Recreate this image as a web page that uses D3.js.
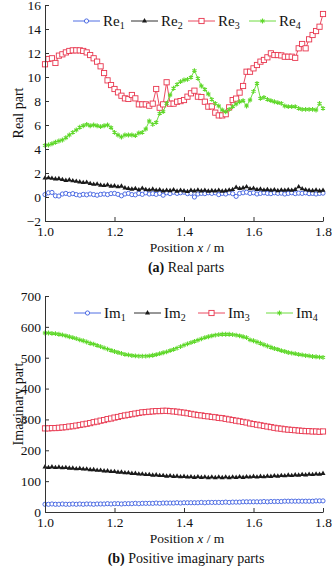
<!DOCTYPE html>
<html>
<head>
<meta charset="utf-8">
<script src="https://cdn.jsdelivr.net/npm/d3@7"></script>
<style>
  body { margin: 0; background: #fff; }
  svg { display: block; }
  svg text { font-family: "Liberation Serif", "Times New Roman", serif; fill: #111; }
  .axis path, .axis line { stroke: #333; }
  .axis text { font-size: 13.5px; }
</style>
</head>
<body>
<div id="chart"></div>
<script>
// Sample positions along the beam (m)
const positions = [
  1.00, 1.01, 1.02, 1.03, 1.04, 1.05, 1.06, 1.07, 1.08, 1.09,
  1.10, 1.11, 1.12, 1.13, 1.14, 1.15, 1.16, 1.17, 1.18, 1.19,
  1.20, 1.21, 1.22, 1.23, 1.24, 1.25, 1.26, 1.27, 1.28, 1.29,
  1.30, 1.31, 1.32, 1.33, 1.34, 1.35, 1.36, 1.37, 1.38, 1.39,
  1.40, 1.41, 1.42, 1.43, 1.44, 1.45, 1.46, 1.47, 1.48, 1.49,
  1.50, 1.51, 1.52, 1.53, 1.54, 1.55, 1.56, 1.57, 1.58, 1.59,
  1.60, 1.61, 1.62, 1.63, 1.64, 1.65, 1.66, 1.67, 1.68, 1.69,
  1.70, 1.71, 1.72, 1.73, 1.74, 1.75, 1.76, 1.77, 1.78, 1.79,
  1.80
];

// Real parts
const re1 = [
  0.20, 0.35, 0.38, 0.10, 0.08, 0.25, 0.30, 0.22, 0.28, 0.20,
  0.15, 0.22, 0.18, 0.25, 0.20, 0.15, 0.22, 0.25, 0.20, 0.28,
  0.30, 0.22, 0.10, 0.25, 0.30, 0.20, 0.18, 0.30, 0.22, 0.35,
  0.25, 0.28, 0.22, 0.30, 0.15, 0.35, 0.28, 0.40, 0.30, 0.35,
  0.40, 0.28, 0.30, 0.00, 0.25, 0.30, 0.28, 0.35, 0.30, 0.35,
  0.20, 0.30, 0.25, 0.35, 0.28, 0.05, 0.30, 0.35, 0.40, 0.30,
  0.35, 0.25, 0.30, 0.35, 0.30, 0.28, 0.35, 0.30, 0.32, 0.25,
  0.30, 0.35, 0.28, 0.32, 0.30, 0.35, 0.28, 0.30, 0.25, 0.30,
  0.32
];
const re2 = [
  1.58, 1.60, 1.55, 1.50, 1.52, 1.45, 1.38, 1.42, 1.35, 1.30,
  1.25, 1.20, 1.22, 1.12, 1.05, 1.08, 0.98, 0.95, 1.00, 0.90,
  0.92, 0.85, 0.90, 0.75, 0.70, 0.65, 0.70, 0.60, 0.72, 0.62,
  0.58, 0.65, 0.55, 0.60, 0.50, 0.55, 0.52, 0.60, 0.48, 0.55,
  0.50, 0.45, 0.55, 0.50, 0.58, 0.50, 0.55, 0.48, 0.52, 0.50,
  0.55, 0.48, 0.52, 0.58, 0.62, 0.80, 0.70, 0.75, 0.85, 0.68,
  0.72, 0.62, 0.65, 0.58, 0.62, 0.55, 0.60, 0.52, 0.58, 0.55,
  0.60, 0.55, 0.62, 0.85, 0.68, 0.60, 0.55, 0.52, 0.58, 0.50,
  0.55
];
const re3 = [
  11.06, 11.50, 11.56, 11.17, 11.78, 11.89, 12.05, 12.17, 12.22, 12.22,
  12.22, 12.17, 12.05, 11.83, 11.56, 11.28, 10.89, 10.33, 9.72, 9.33,
  9.00, 8.72, 8.44, 8.22, 8.17, 8.50, 8.22, 7.72, 7.72, 7.72,
  7.61, 7.78, 9.00, 7.44, 7.72, 9.56, 7.78, 7.78, 7.94, 7.99,
  8.08, 8.36, 8.64, 8.86, 8.36, 8.33, 7.94, 7.53, 7.55, 7.03,
  6.80, 6.80, 6.90, 7.47, 8.08, 8.20, 8.70, 9.25, 10.44, 10.44,
  10.72, 11.00, 11.28, 11.42, 11.64, 11.97, 11.83, 11.83, 11.80, 11.69,
  11.69, 11.69, 11.60, 12.39, 12.75, 12.39, 13.14, 13.50, 13.83, 14.19,
  15.25
];
const re4 = [
  4.30, 4.33, 4.44, 4.56, 4.67, 4.75, 4.94, 5.17, 5.39, 5.58,
  5.81, 5.94, 6.05, 5.94, 6.00, 5.94, 5.86, 5.94, 6.00, 5.78,
  5.39, 5.17, 5.00, 5.17, 5.17, 5.17, 5.11, 5.33, 5.39, 5.67,
  6.33, 6.05, 6.22, 6.97, 7.11, 7.80, 8.50, 9.06, 9.39, 9.61,
  9.75, 9.80, 9.97, 10.53, 9.89, 9.25, 8.97, 8.58, 8.14, 7.80,
  7.58, 7.25, 7.10, 7.30, 7.53, 7.75, 7.94, 8.03, 7.58, 8.08,
  8.80, 9.47, 8.22, 8.30, 8.14, 8.03, 7.94, 7.86, 7.80, 7.58,
  7.53, 7.53, 7.53, 7.39, 7.30, 7.30, 7.30, 7.30, 7.25, 7.80,
  7.39
];

// Positive imaginary parts
const im1 = [
  25, 25, 26, 25, 25, 26, 25, 25, 26, 25,
  26, 25, 26, 26, 25, 26, 26, 26, 27, 26,
  27, 27, 26, 27, 27, 27, 28, 27, 28, 28,
  28, 28, 29, 28, 29, 29, 29, 29, 30, 29,
  30, 30, 30, 30, 30, 31, 30, 31, 31, 31,
  31, 31, 32, 31, 32, 32, 32, 33, 33, 33,
  33, 33, 33, 34, 33, 34, 34, 34, 34, 35,
  35, 35, 35, 35, 35, 35, 35, 35, 36, 36,
  36
];
const im2 = [
  146, 144, 146, 144, 145, 143, 144, 142, 142, 140,
  141, 139, 139, 137, 137, 135, 135, 133, 133, 131,
  131, 129, 129, 127, 127, 125, 125, 123, 123, 121,
  121, 119, 120, 118, 118, 116, 117, 115, 116, 114,
  115, 113, 114, 112, 114, 112, 113, 111, 113, 111,
  113, 111, 113, 111, 113, 112, 114, 112, 114, 113,
  115, 113, 115, 114, 116, 115, 117, 116, 118, 117,
  119, 118, 120, 119, 121, 120, 122, 121, 123, 122,
  125
];
const im3 = [
  271, 271, 272, 272, 273, 274, 275, 277, 278, 280,
  282, 284, 286, 288, 291, 293, 296, 298, 301, 303,
  306, 308, 311, 313, 315, 317, 319, 321, 323, 324,
  325, 326, 327, 327, 328, 328, 327, 326, 325, 323,
  322, 320, 318, 316, 314, 313, 311, 310, 308, 307,
  305, 304, 302, 300, 298, 296, 294, 292, 290, 287,
  285, 283, 281, 279, 277, 275, 273, 271, 270, 268,
  267, 266, 265, 264, 263, 262, 262, 261, 261, 260,
  261
];
const im4 = [
  580, 580, 579, 578, 576, 574, 571, 568, 565, 562,
  558, 555, 551, 547, 544, 540, 536, 532, 528, 524,
  520, 517, 514, 511, 509, 507, 506, 505, 505, 505,
  506, 508, 510, 513, 516, 519, 523, 527, 531, 536,
  541, 545, 549, 553, 557, 561, 565, 568, 571, 573,
  575, 576, 576, 576, 575, 573, 571, 568, 565, 558,
  555, 551, 547, 542, 538, 534, 530, 527, 523, 520,
  517, 515, 513, 511, 509, 507, 506, 504, 503, 502,
  501
];

const xTicks = [1.0, 1.2, 1.4, 1.6, 1.8];
const reTicks = [-2, 0, 2, 4, 6, 8, 10, 12, 14, 16];
const imTicks = [0, 100, 200, 300, 400, 500, 600, 700];

const width = 332, height = 566;
const serif = "'Liberation Serif', 'Times New Roman', serif";
const colors = { blue: "#3d5fe0", black: "#1a1a1a", red: "#e8364e", green: "#5fd82a" };

const svg = d3.select("#chart").append("svg")
  .attr("width", width)
  .attr("height", height)
  .attr("font-family", serif);

const x = d3.scaleLinear().domain([1.0, 1.8]).range([45, 323]);
const yRe = d3.scaleLinear().domain([-2, 16]).range([221, 5]);
const yIm = d3.scaleLinear().domain([0, 700]).range([512, 296]);

// marker drawers
function drawMarkers(g, pts, kind, color) {
  if (kind === "circle") {
    g.selectAll("circle").data(pts).join("circle")
      .attr("cx", d => d[0]).attr("cy", d => d[1]).attr("r", 2.1)
      .attr("fill", "#fff").attr("stroke", color).attr("stroke-width", 0.9);
  } else if (kind === "square") {
    g.selectAll("rect").data(pts).join("rect")
      .attr("x", d => d[0] - 2.6).attr("y", d => d[1] - 2.6)
      .attr("width", 5.2).attr("height", 5.2)
      .attr("fill", "#fff").attr("stroke", color).attr("stroke-width", 0.9);
  } else if (kind === "triangle") {
    g.selectAll("path").data(pts).join("path")
      .attr("transform", d => `translate(${d[0]},${d[1]})`)
      .attr("d", d3.symbol(d3.symbolTriangle, 11))
      .attr("fill", color);
  } else {
    g.selectAll("path").data(pts).join("path")
      .attr("transform", d => `translate(${d[0]},${d[1]})`)
      .attr("d", d3.symbol(d3.symbolAsterisk, 16))
      .attr("fill", "none").attr("stroke", color).attr("stroke-width", 1.1);
  }
}

function drawPanel(y, ticks, series, opts) {
  const line = d3.line().x(d => x(d[0])).y(d => y(d[1]));

  series.forEach(s => {
    const data = positions.map((p, i) => [p, s.values[i]]);
    svg.append("path").datum(data)
      .attr("d", line)
      .attr("fill", "none")
      .attr("stroke", s.color)
      .attr("stroke-width", 0.9);
    const g = svg.append("g");
    drawMarkers(g, data.map(d => [x(d[0]), y(d[1])]), s.marker, s.color);
  });

  // axes
  svg.append("g").attr("class", "axis")
    .attr("transform", `translate(0,${y.range()[0]})`)
    .call(d3.axisBottom(x).tickValues(xTicks).tickFormat(d3.format(".1f"))
      .tickSize(-4).tickSizeOuter(0).tickPadding(5))
    .attr("font-family", serif).attr("font-size", 13.5);
  svg.append("g").attr("class", "axis")
    .attr("transform", `translate(${x.range()[0]},0)`)
    .call(d3.axisLeft(y).tickValues(ticks).tickSize(-4).tickSizeOuter(0).tickPadding(4))
    .attr("font-family", serif).attr("font-size", 13.5);

  // y label
  svg.append("text")
    .attr("transform", `translate(23,${(y.range()[0] + y.range()[1]) / 2}) rotate(-90)`)
    .attr("text-anchor", "middle")
    .attr("font-size", "14px")
    .text(opts.yLabel);

  // x label
  const xl = svg.append("text")
    .attr("x", 187).attr("y", y.range()[0] + 31)
    .attr("text-anchor", "middle")
    .attr("font-size", "13.5px");
  xl.append("tspan").text("Position ");
  xl.append("tspan").attr("font-style", "italic").text("x");
  xl.append("tspan").text(" / m");

  // caption
  const cap = svg.append("text")
    .attr("x", 186).attr("y", y.range()[0] + 51)
    .attr("text-anchor", "middle")
    .attr("font-size", "14px");
  cap.append("tspan").attr("font-weight", "bold").text(opts.tag);
  cap.append("tspan").text(" " + opts.caption);

  // legend
  series.forEach((s, i) => {
    const lx = opts.legendX[i], ly = opts.legendY;
    svg.append("line")
      .attr("x1", lx).attr("x2", lx + 27)
      .attr("y1", ly).attr("y2", ly)
      .attr("stroke", s.color).attr("stroke-width", 0.9);
    drawMarkers(svg.append("g"), [[lx + 13.5, ly]], s.marker, s.color);
    const t = svg.append("text")
      .attr("x", lx + 30).attr("y", ly + 5)
      .attr("font-size", "15px");
    t.append("tspan").text(s.name);
    t.append("tspan").attr("font-size", "10px").attr("dy", 3).text(s.sub);
  });
}

drawPanel(yRe, reTicks, [
  { name: "Re", sub: "1", values: re1, color: colors.blue, marker: "circle" },
  { name: "Re", sub: "2", values: re2, color: colors.black, marker: "triangle" },
  { name: "Re", sub: "3", values: re3, color: colors.red, marker: "square" },
  { name: "Re", sub: "4", values: re4, color: colors.green, marker: "star" }
], { yLabel: "Real part", tag: "(a)", caption: "Real parts", legendX: [73, 131, 188, 249], legendY: 21 });

drawPanel(yIm, imTicks, [
  { name: "Im", sub: "1", values: im1, color: colors.blue, marker: "circle" },
  { name: "Im", sub: "2", values: im2, color: colors.black, marker: "triangle" },
  { name: "Im", sub: "3", values: im3, color: colors.red, marker: "square" },
  { name: "Im", sub: "4", values: im4, color: colors.green, marker: "star" }
], { yLabel: "Imaginary part", tag: "(b)", caption: "Positive imaginary parts", legendX: [74, 134, 198, 266], legendY: 313 });
</script>
</body>
</html>
